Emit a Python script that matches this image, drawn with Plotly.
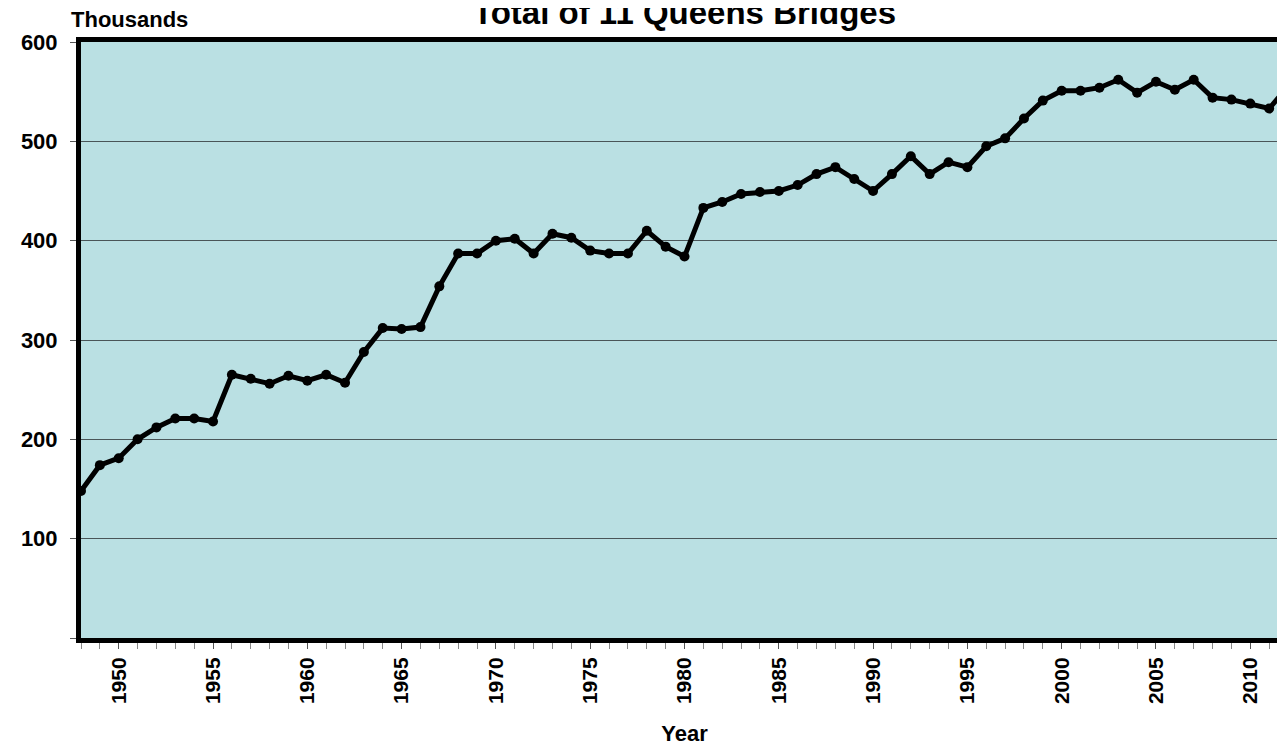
import plotly.graph_objects as go

# Total traffic on the 11 Queens bridges, thousands
years = list(range(1948, 2013))
traffic = [
    148, 174, 181, 200, 212, 221, 221, 218, 265, 261,
    256, 264, 259, 265, 257, 288, 312, 311, 313, 354,
    387, 387, 400, 402, 387, 407, 403, 390, 387, 387,
    410, 394, 384, 433, 439, 447, 449, 450, 456, 467,
    474, 462, 450, 467, 485, 467, 479, 474, 495, 503,
    523, 541, 551, 551, 554, 562, 549, 560, 552, 562,
    544, 542, 538, 533, 555,
]
year_ticks = list(range(1950, 2011, 5))
y_ticks = [0, 100, 200, 300, 400, 500, 600]
y_labels = ["", "100", "200", "300", "400", "500", "600"]

font = "Liberation Sans, Arial, sans-serif"

fig = go.Figure()
fig.add_trace(go.Scatter(
    x=years, y=traffic, mode="lines+markers",
    line=dict(color="black", width=5),
    marker=dict(color="black", size=10),
    showlegend=False,
))

fig.update_layout(
    width=1285, height=751,
    margin=dict(l=73, r=0, t=34, b=121),
    paper_bgcolor="white",
    plot_bgcolor="#bae0e3",
    font=dict(family=font, color="black", size=20),
)

fig.update_xaxes(
    range=[1948, 2012],
    tickvals=year_ticks,
    tickangle=-90,
    tickfont=dict(family=font, size=21, color="black", weight="bold"),
    ticks="outside", ticklen=6, tickcolor="#555",
    minor=dict(dtick=1, ticks="outside", ticklen=6, tickcolor="#888", showgrid=False),
    showgrid=False, zeroline=False,
    showline=True, mirror=True, linecolor="black", linewidth=5,
    title=dict(text="Year", font=dict(family=font, size=22, weight="bold"), standoff=24),
)

fig.update_yaxes(
    range=[0, 600],
    tickvals=y_ticks, ticktext=y_labels,
    tickfont=dict(family=font, size=22, color="black", weight="bold"),
    ticks="outside", ticklen=6, tickcolor="#555",
    ticklabelstandoff=8,
    showgrid=True, gridcolor="#4a5558", gridwidth=1,
    zeroline=False,
    showline=True, mirror=True, linecolor="black", linewidth=5,
)

# title sits partly above the page edge, as in the original
fig.add_annotation(
    text="Total of 11 Queens Bridges",
    xref="paper", yref="paper", x=0.5, y=1.0,
    xanchor="center", yanchor="middle", yshift=30, showarrow=False,
    font=dict(family=font, size=33, weight="bold"),
)
fig.add_annotation(
    text="Thousands",
    xref="paper", yref="paper", x=0.0, y=1.0,
    xanchor="left", yanchor="bottom", xshift=-12, yshift=8, showarrow=False,
    font=dict(family=font, size=22, weight="bold"),
)

fig.write_html("out.html")
